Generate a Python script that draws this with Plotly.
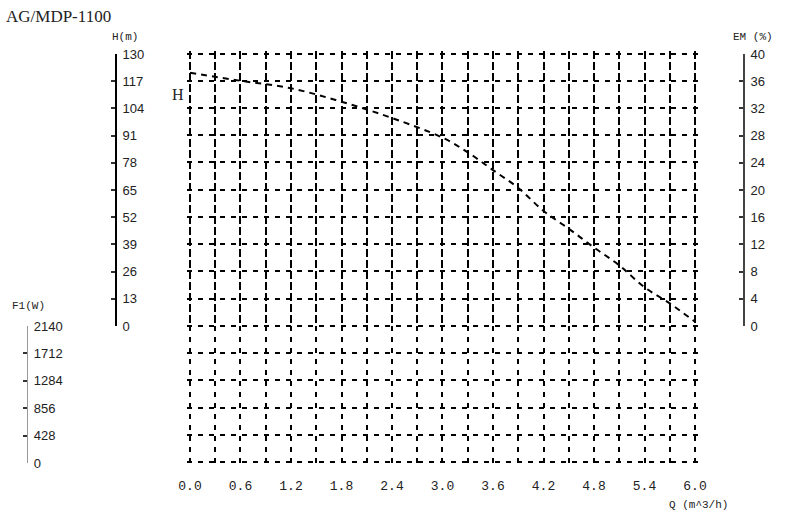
import plotly.graph_objects as go

W, Hpx = 786, 529

# Data
q_vals = [0.0, 0.6, 1.2, 1.8, 2.4, 3.0, 3.3, 3.6, 3.9, 4.2, 4.5, 4.8, 5.1, 5.4, 5.7, 6.0]
h_vals = [121.0, 117.2, 113.6, 107.2, 99.4, 90.0, 83.0, 74.5, 66.0, 55.0, 46.5, 37.5, 29.0, 18.5, 10.8, 2.0]

q_ticks = [0.0, 0.6, 1.2, 1.8, 2.4, 3.0, 3.6, 4.2, 4.8, 5.4, 6.0]
h_ticks = [0, 13, 26, 39, 52, 65, 78, 91, 104, 117, 130]
em_ticks = [0, 4, 8, 12, 16, 20, 24, 28, 32, 36, 40]
p_ticks = [0, 428, 856, 1284, 1712, 2140]

# grid positions: every half step of the Q ticks, 15 equal rows
q_grid = [round(i * 0.3, 1) for i in range(21)]
q_grid_text = [f"{v:.1f}" if any(abs(v - t) < 1e-9 for t in q_ticks) else "" for v in q_grid]
rows = 15

def px_x(p):
    return p / W

def px_y(p):
    return 1 - p / Hpx

# plot frame in pixels
X0, X1 = 190, 695
Y0, Y1 = 462, 53.5
# pad range a little so the border grid lines are kept
xpad, ypad = 0.03, 0.08
xscale = (X1 - X0) / 6.0
yscale = (Y0 - Y1) / rows

grid_dash = "5px,6px"
tick_font = dict(family="Liberation Sans", size=13, color="#222")

fig = go.Figure()

# H curve
fig.add_trace(go.Scatter(
    x=q_vals, y=h_vals, xaxis="x", yaxis="y2", mode="lines",
    line=dict(color="black", width=2, dash="6px,5px", shape="spline"),
    showlegend=False, hoverinfo="skip", cliponaxis=False))

# invisible traces so each axis is drawn
for ya in ["y", "y3", "y4"]:
    fig.add_trace(go.Scatter(x=[0], y=[0], xaxis="x", yaxis=ya,
                             mode="markers", marker=dict(opacity=0),
                             showlegend=False, hoverinfo="skip"))

def side_axis(line_color, line_width):
    return dict(
        showgrid=False, zeroline=False, showline=True, linecolor=line_color, linewidth=line_width,
        ticks="inside", ticklen=4, tickwidth=1.5, tickcolor="#333",
        tickfont=tick_font, anchor="free", side="right", automargin=False,
        ticklabelstandoff=3, fixedrange=True,
    )

fig.update_layout(
    width=W, height=Hpx,
    margin=dict(l=0, r=0, t=0, b=0, pad=0, autoexpand=False),
    paper_bgcolor="white", plot_bgcolor="rgba(0,0,0,0)",
    xaxis=dict(
        domain=[px_x(X0 - xpad * xscale), px_x(X1 + xpad * xscale)], range=[-xpad, 6 + xpad],
        tickmode="array", tickvals=q_grid, ticktext=q_grid_text,
        tickfont=dict(family="Liberation Mono", size=13, color="#222"),
        ticks="outside", ticklen=9, tickcolor="rgba(0,0,0,0)",
        showgrid=True, gridcolor="black", gridwidth=2, griddash=grid_dash,
        zeroline=False, showline=False, anchor="y", fixedrange=True, automargin=False,
    ),
    yaxis=dict(
        domain=[px_y(Y0 + ypad * yscale), px_y(Y1 - ypad * yscale)], range=[-ypad, rows + ypad],
        tickmode="array", tickvals=list(range(rows + 1)),
        showticklabels=False, ticks="",
        showgrid=True, gridcolor="black", gridwidth=2, griddash=grid_dash,
        zeroline=False, showline=False, anchor="x", fixedrange=True, automargin=False,
    ),
    yaxis2=dict(domain=[px_y(326), px_y(54)], range=[0, 130], tickmode="array", tickvals=h_ticks,
                position=px_x(116), **side_axis("black", 1.8)),
    yaxis3=dict(domain=[px_y(326), px_y(54)], range=[0, 40], tickmode="array", tickvals=em_ticks,
                position=px_x(744), **side_axis("#444", 1.8)),
    yaxis4=dict(domain=[px_y(463), px_y(326)], range=[0, 2140], tickmode="array", tickvals=p_ticks,
                position=px_x(27), **side_axis("#999", 1.2)),
)

ann_font = dict(family="Liberation Mono", size=11, color="#222")
annotations = [
    dict(text="AG/MDP-1100", x=px_x(4), y=px_y(17), xanchor="left", yanchor="middle",
         font=dict(family="Liberation Serif", size=17, color="#222")),
    dict(text="H(m)", x=px_x(110), y=px_y(37), xanchor="left", yanchor="middle", font=ann_font),
    dict(text="EM (%)", x=px_x(731), y=px_y(37), xanchor="left", yanchor="middle", font=ann_font),
    dict(text="F1(W)", x=px_x(10), y=px_y(306), xanchor="left", yanchor="middle", font=ann_font),
    dict(text="Q (m^3/h)", x=px_x(667), y=px_y(505), xanchor="left", yanchor="middle", font=ann_font),
    dict(text="H", x=px_x(178), y=px_y(95), xanchor="center", yanchor="middle",
         font=dict(family="Liberation Serif", size=16, color="#222")),
]
for a in annotations:
    a.update(xref="paper", yref="paper", showarrow=False)
fig.update_layout(annotations=annotations)

fig.write_html("out.html", config={"displayModeBar": False},
               post_script="document.body.style.margin='0px';")
